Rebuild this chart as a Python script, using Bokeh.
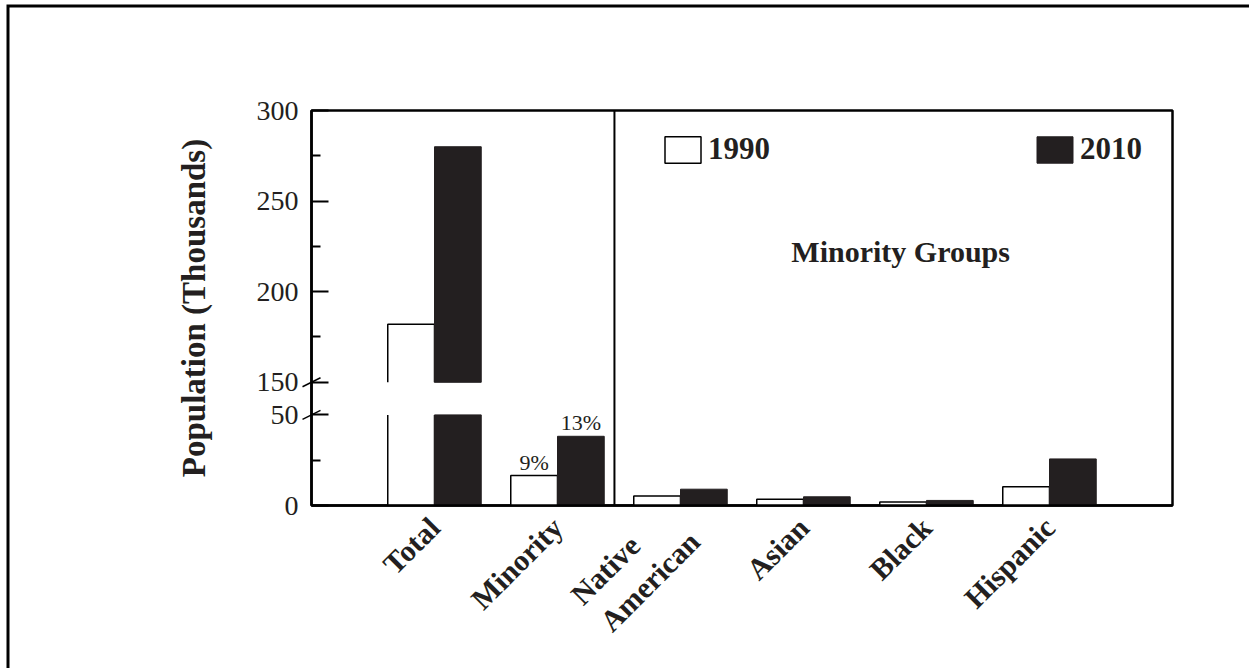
import math
from bokeh.plotting import figure
from bokeh.models import (Range1d, LinearAxis, FixedTicker, Span, Legend, LegendItem)
from bokeh.core.properties import value
from bokeh.embed import file_html
from bokeh.resources import INLINE

# ---------------- data ----------------
categories = ["Total", "Minority", "Native\u00a0\u00a0\u00a0\u00a0\u00a0\u00a0\nAmerican",
              "Asian", "Black", "Hispanic"]
pop_1990 = [182.0, 16.5, 5.3, 3.4, 1.9, 10.3]
pop_2010 = [280.0, 38.2, 9.0, 4.8, 2.8, 25.7]
share_1990 = ["", "9%", "", "", "", ""]
share_2010 = ["", "13%", "", "", "", ""]
y_tick_values = [0, 50, 150, 200, 250, 300]
y_minor_values = [25, 175, 225, 275]
series_names = ["1990", "2010"]
group_title = "Minority Groups"
y_title = "Population (Thousands)"

# ---------------- broken axis transform ----------------
BREAK_LO, BREAK_HI, GAP = 50, 150, 18


def fwd(v):
    return v if v <= BREAK_LO else v - BREAK_HI + BREAK_LO + GAP


# ---------------- layout ----------------
W, H = 1249, 668
FRAME_L, FRAME_R, FRAME_T, FRAME_B = 311, 1172, 110, 505
X0, X1 = -1, 6
Y0, Y1 = 0, fwd(300)


def cx(px):  # canvas pixel -> data x
    return X0 + (px - FRAME_L) * (X1 - X0) / (FRAME_R - FRAME_L)


def cy(py):  # canvas pixel -> data y
    return Y0 + (FRAME_B - py) * (Y1 - Y0) / (FRAME_B - FRAME_T)


FONT = "Liberation Serif"
INK = "#231f20"
BAR_W = 0.38
idx = list(range(len(categories)))
x90 = [i - BAR_W / 2 for i in idx]
x10 = [i + BAR_W / 2 for i in idx]


def segments(vals, xs):
    x, b, t, tops = [], [], [], []
    for xi, v in zip(xs, vals):
        if v <= BREAK_LO:
            x.append(xi); b.append(0); t.append(v); tops.append(True)
        else:
            x.append(xi); b.append(0); t.append(BREAK_LO); tops.append(False)
            x.append(xi); b.append(fwd(BREAK_HI)); t.append(fwd(v)); tops.append(True)
    return x, b, t, tops


p = figure(width=W, height=H, output_backend="svg", toolbar_location=None,
           x_range=Range1d(X0, X1), y_range=Range1d(Y0, Y1),
           x_axis_type=None, y_axis_type=None,
           min_border_left=FRAME_L, min_border_right=W - FRAME_R,
           min_border_top=FRAME_T, min_border_bottom=H - FRAME_B)
p.outline_line_color = "black"
p.outline_line_width = 2.5

# y axis
yax = LinearAxis(ticker=FixedTicker(ticks=[fwd(v) for v in y_tick_values],
                                    minor_ticks=[fwd(v) for v in y_minor_values]),
                 major_label_overrides={fwd(v): str(v) for v in y_tick_values})
yax.axis_line_color = "black"
yax.axis_line_width = 2.5
yax.major_tick_in = 17
yax.major_tick_out = 0
yax.minor_tick_in = 9
yax.minor_tick_out = 0
yax.major_tick_line_width = 2
yax.minor_tick_line_width = 2
yax.major_label_text_font = FONT
yax.major_label_text_font_size = "28px"
yax.major_label_text_color = INK
yax.major_label_standoff = 13
yax.axis_label = y_title
yax.axis_label_text_font = FONT
yax.axis_label_text_font_style = "bold"
yax.axis_label_text_font_size = "33px"
yax.axis_label_text_color = INK
yax.axis_label_standoff = 42
p.add_layout(yax, "left")

# x axis
xax = LinearAxis(ticker=FixedTicker(ticks=idx, minor_ticks=[]),
                 major_label_overrides={i: c for i, c in zip(idx, categories)})
xax.axis_line_color = "black"
xax.axis_line_width = 2.5
xax.major_tick_in = 0
xax.major_tick_out = 0
xax.minor_tick_in = 0
xax.minor_tick_out = 0
xax.major_label_orientation = math.pi / 4
xax.major_label_text_font = FONT
xax.major_label_text_font_style = "bold"
xax.major_label_text_font_size = "30px"
xax.major_label_text_color = INK
xax.major_label_standoff = 17
p.add_layout(xax, "below")

# 1990 bars: white, outlined, outline interrupted at the axis break
sx, sb, st, stops = segments(pop_1990, x90)
p.vbar(x=sx, bottom=sb, top=st, width=BAR_W, fill_color="white", line_alpha=0)
xs_l, ys_l = [], []
for x, b, t, top in zip(sx, sb, st, stops):
    x0, x1 = x - BAR_W / 2, x + BAR_W / 2
    if top:
        xs_l.append([x0, x0, x1, x1]); ys_l.append([b, t, t, b])
    else:
        xs_l.append([x0, x0]); ys_l.append([b, t])
        xs_l.append([x1, x1]); ys_l.append([b, t])
p.multi_line(xs=xs_l, ys=ys_l, line_color="black", line_width=1.5)

# 2010 bars: solid
kx, kb, kt, _ = segments(pop_2010, x10)
r10 = p.vbar(x=kx, bottom=kb, top=kt, width=BAR_W, fill_color=INK, line_color=INK, line_width=1)
# legend swatch style for 1990 (zero-height bar on the axis)
r90 = p.vbar(x=[x90[0]], bottom=[0], top=[0], width=BAR_W, fill_color="white",
             line_color="black", line_width=1.5)

# percent labels
for xs, vals, labs in ((x90, pop_1990, share_1990), (x10, pop_2010, share_2010)):
    lx = [x for x, l in zip(xs, labs) if l]
    ly = [fwd(v) + 0.5 for v, l in zip(vals, labs) if l]
    lt = [l for l in labs if l]
    p.text(x=lx, y=ly, text=lt, text_align="center", text_baseline="bottom",
           text_font=value(FONT), text_font_size="22px", text_color=INK)

# divider between total/minority and groups
p.add_layout(Span(location=1.463, dimension="height", line_color="black", line_width=2))

# group title
p.text(x=[3.79], y=[140], text=[group_title], text_align="center", text_baseline="middle",
       text_font=value(FONT), text_font_style="bold", text_font_size="30px", text_color=INK)

# axis break marks (drawn on the overlay level so they can cross the frame edge)
bx0, by0, bx1, by1 = [], [], [], []
for v in (BREAK_LO, BREAK_HI):
    py = FRAME_B - fwd(v) * (FRAME_B - FRAME_T) / (Y1 - Y0)
    bx0.append(cx(FRAME_L - 9)); by0.append(cy(py + 4.5))
    bx1.append(cx(FRAME_L + 9)); by1.append(cy(py - 4.5))
p.segment(x0=bx0, y0=by0, x1=bx1, y1=by1, line_color="black", line_width=1.5, level="overlay")

# outer page frame (left and top edges)
p.line(x=[cx(7.5), cx(7.5), cx(W + 20)], y=[cy(H + 20), cy(5.5), cy(5.5)],
       line_color="black", line_width=3, line_join="miter", level="overlay")

# legends
for name, r, loc in ((series_names[0], r90, (349, 338)), (series_names[1], r10, (721, 338))):
    lg = Legend(items=[LegendItem(label=name, renderers=[r])], location=loc,
                glyph_width=45, glyph_height=33, label_standoff=3,
                padding=0, margin=0, spacing=0,
                border_line_alpha=0, background_fill_alpha=0,
                label_text_font=FONT, label_text_font_style="bold",
                label_text_font_size="31px", label_text_color=INK)
    p.add_layout(lg, "center")

open("out.html", "w").write(file_html(p, INLINE))
